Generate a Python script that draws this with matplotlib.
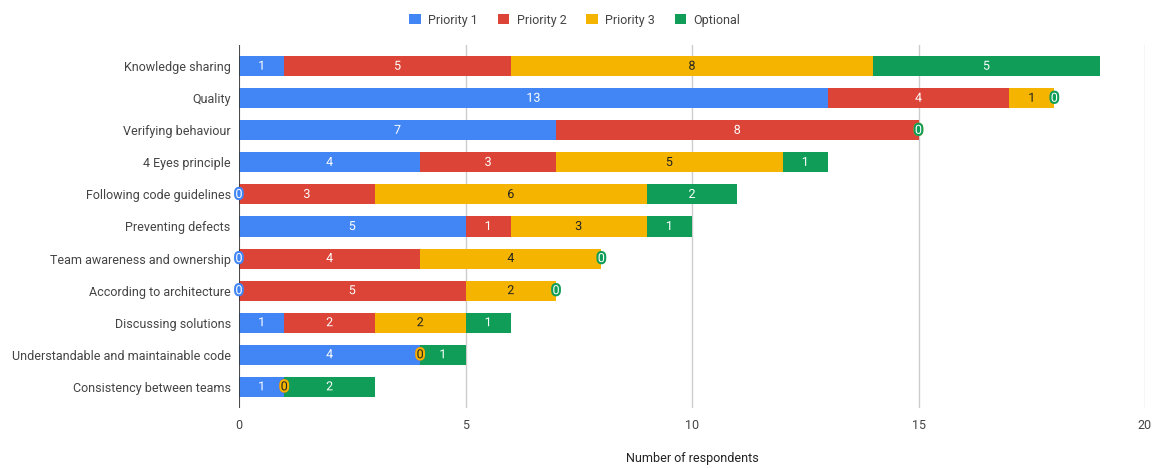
import matplotlib.pyplot as plt
import matplotlib.patheffects as pe
import numpy as np

plt.rcParams['font.family'] = ['Roboto', 'DejaVu Sans']

# --- Survey data ---
categories = [
    "Knowledge sharing",
    "Quality",
    "Verifying behaviour",
    "4 Eyes principle",
    "Following code guidelines",
    "Preventing defects",
    "Team awareness and ownership",
    "According to architecture",
    "Discussing solutions",
    "Understandable and maintainable code",
    "Consistency between teams",
]
priority_1 = [1, 13, 7, 4, 0, 5, 0, 0, 1, 4, 1]
priority_2 = [5, 4, 8, 3, 3, 1, 4, 5, 2, 0, 0]
priority_3 = [8, 1, 0, 5, 6, 3, 4, 2, 2, 0, 0]
optional = [5, 0, 0, 1, 2, 1, 0, 0, 1, 1, 2]

series_names = ["Priority 1", "Priority 2", "Priority 3", "Optional"]
series_colors = ["#4285F4", "#DB4437", "#F4B400", "#0F9D58"]
text_colors = ["white", "white", "#222222", "white"]

fig = plt.figure(figsize=(11.59, 4.68), dpi=100)
ax = fig.add_axes([239 / 1159, 60 / 468, 906 / 1159, 363 / 468])

y = np.arange(len(categories))
left = np.zeros(len(categories))
for name, vals, col, tcol in zip(series_names, [priority_1, priority_2, priority_3, optional],
                                 series_colors, text_colors):
    vals = np.array(vals, dtype=float)
    ax.barh(y, vals, left=left, height=0.625, color=col, label=name, zorder=3)
    # value label in the middle of each segment, zero ones sit on the boundary
    for yi, (l, v) in enumerate(zip(left, vals)):
        ax.text(l + v / 2, yi, f"{int(v)}", ha="center", va="center", fontsize=9,
                color=tcol, zorder=5,
                path_effects=[pe.withStroke(linewidth=3, foreground=col)])
    left += vals

ax.set_xlim(0, 20)
ax.set_ylim(len(categories) - 0.34, -0.66)
ax.set_xticks([0, 5, 10, 15, 20])
ax.set_yticks(y)
ax.set_yticklabels(categories)
ax.tick_params(axis="both", length=0, labelsize=9, labelcolor="#444444")
ax.tick_params(axis="x", pad=8)
ax.tick_params(axis="y", pad=6)
ax.grid(axis="x", color="#cccccc", linewidth=1, zorder=0)
ax.axvline(0, color="#333333", linewidth=1.2, zorder=4)
for s in ax.spines.values():
    s.set_visible(False)

ax.set_xlabel("Number of respondents", fontsize=9, color="#222222", labelpad=14)

fig.legend(loc="upper center", bbox_to_anchor=(575 / 1159, 0.995), ncol=4, frameon=False,
           fontsize=9, handlelength=0.9, handleheight=0.9, handletextpad=0.6,
           columnspacing=1.6, labelcolor="#444444")

fig.savefig("out.png", dpi=100)
